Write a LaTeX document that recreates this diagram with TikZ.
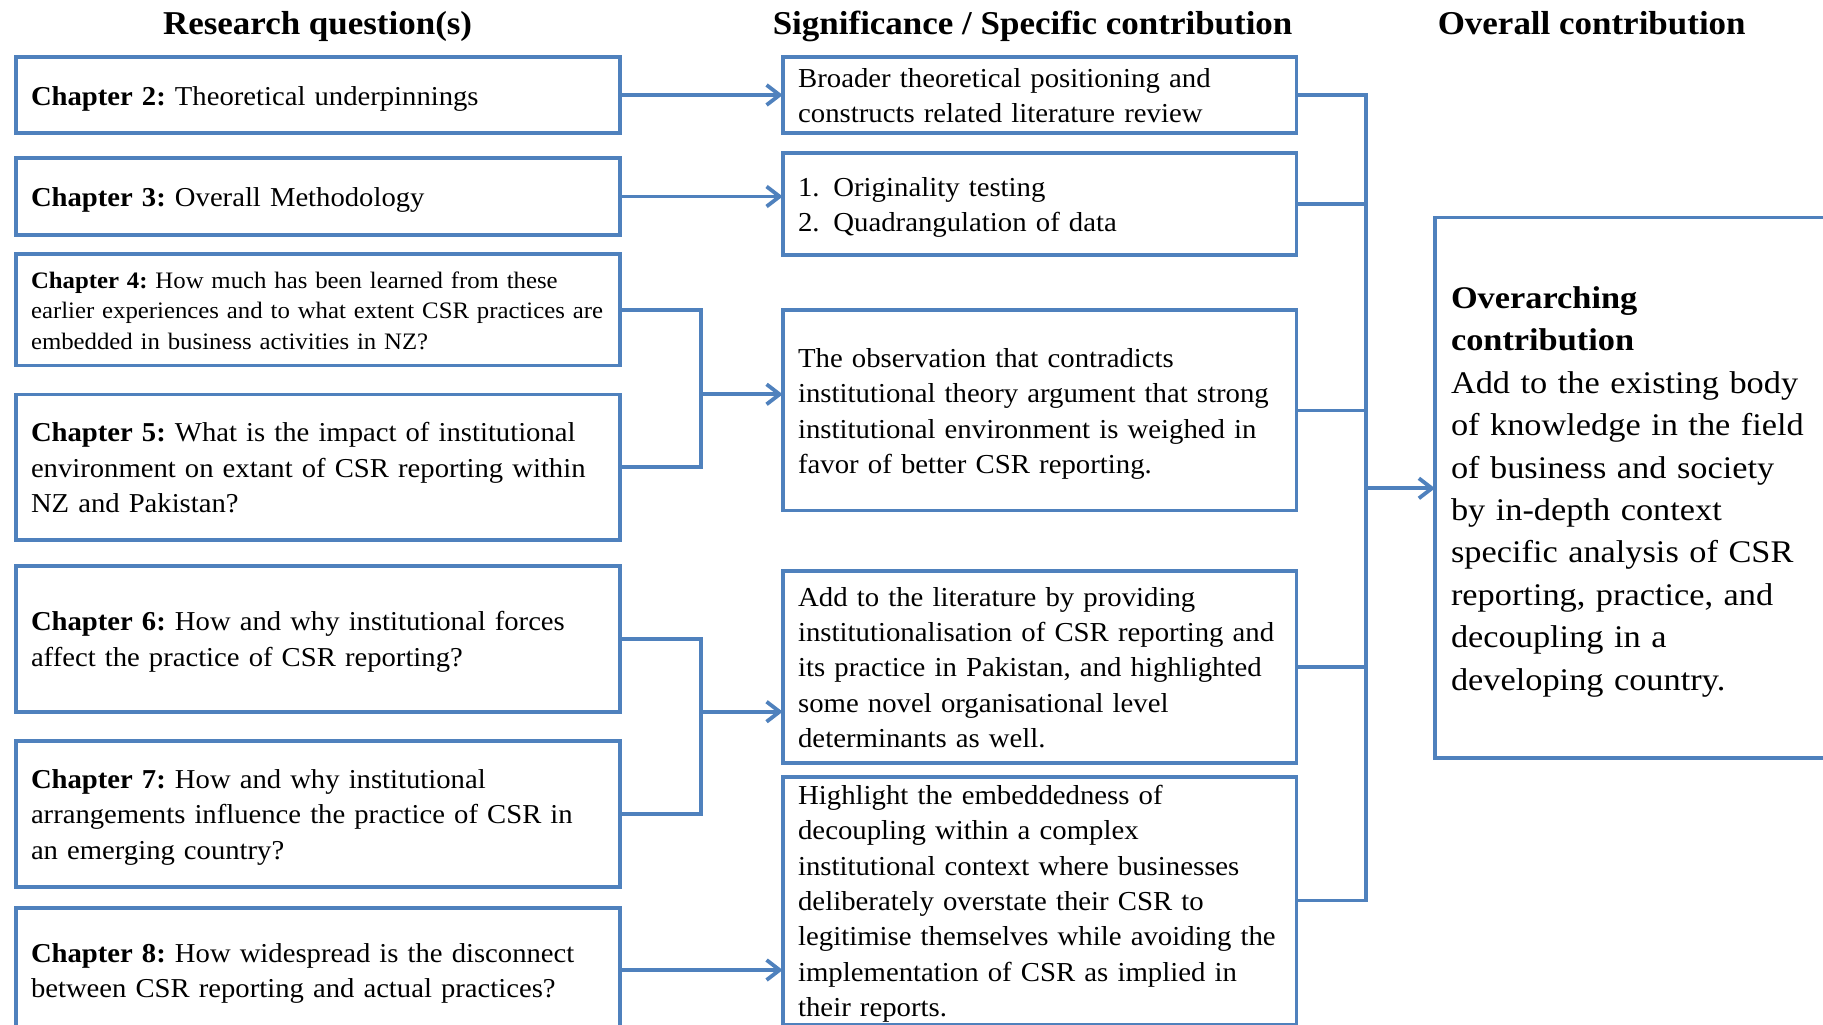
\documentclass[tikz,border=0pt]{standalone}
\usepackage{fontspec}
\setmainfont[FakeStretch=1.05]{Liberation Serif}
\newfontfamily\widefont[FakeStretch=1.09]{Liberation Serif}
\usetikzlibrary{arrows.meta}
\definecolor{linkblue}{HTML}{4F81BD}
\frenchspacing
% stacked lines that never rewrap, set a little below the optical centre
\newcommand\boxlines[1]{%
  \setbox0=\hbox{\begin{tabular}{@{}l@{}}#1\end{tabular}}%
  \dimen0=\ht0 \dimen2=\dp0
  \setbox0=\hbox{\lower3pt\box0}%
  \ht0=\dimen0 \dp0=\dimen2
  \box0}

\begin{document}
\begin{tikzpicture}[x=1pt,y=1pt,
  card/.style={draw=linkblue, line width=3.8pt, inner xsep=15pt, inner ysep=0pt,
    outer sep=0pt, align=left, fill=white},
  leftcard/.style={card, minimum width=604.7pt, text width=574pt,
    font=\fontsize{27.3}{35.5}\selectfont},
  smallcard/.style={leftcard, font=\fontsize{23.6}{30.2}\selectfont},
  midcard/.style={card, minimum width=513.8pt, text width=483pt,
    font=\fontsize{27.4}{35.4}\selectfont},
  heading/.style={inner sep=0pt, anchor=base, font=\fontsize{33.3}{40}\selectfont\bfseries},
  conn/.style={draw=linkblue, line width=3.8pt},
  arr/.style={conn, -{Straight Barb[length=13pt,width=20pt]}}
]
\useasboundingbox (0,0) rectangle (1823,-1025);
\fill[white] (0,0) rectangle (1823,-1025);
\clip (0,0) rectangle (1823,-1025);

% column headings
\node[heading] (h1) at (317.6,-35) {Research question(s)};
\node[heading] (h2) at (1032.6,-35) {Significance / Specific contribution};
\node[heading] (h3) at (1591.7,-35) {Overall contribution};

% research questions
\node[leftcard, minimum height=76.6pt] (c2) at (318,-95)
  {\boxlines{\textbf{Chapter 2:} Theoretical underpinnings}};
\node[leftcard, minimum height=77pt] (c3) at (318,-196.5)
  {\boxlines{\textbf{Chapter 3:} Overall Methodology}};
\node[smallcard, minimum height=111.5pt] (c4) at (318,-309.8)
  {\boxlines{\textbf{Chapter 4:} How much has been learned from these\\
   earlier experiences and to what extent CSR practices are\\
   embedded in business activities in NZ?}};
\node[leftcard, minimum height=145.5pt] (c5) at (318,-467.3)
  {\boxlines{\textbf{Chapter 5:} What is the impact of institutional\\
   environment on extant of CSR reporting within\\
   NZ and Pakistan?}};
\node[leftcard, minimum height=146pt] (c6) at (318,-638.6)
  {\boxlines{\textbf{Chapter 6:} How and why institutional forces\\
   affect the practice of CSR reporting?}};
\node[leftcard, minimum height=146pt] (c7) at (318,-813.8)
  {\boxlines{\textbf{Chapter 7:} How and why institutional\\
   arrangements influence the practice of CSR in\\
   an emerging country?}};
\node[leftcard, minimum height=124pt] (c8) at (318,-970)
  {\boxlines{\textbf{Chapter 8:} How widespread is the disconnect\\
   between CSR reporting and actual practices?}};

% specific contributions
\node[midcard, minimum height=75.7pt] (m1) at (1039.6,-94.9)
  {\boxlines{Broader theoretical positioning and\\
   constructs related literature review}};
\node[midcard, minimum height=102.3pt] (m2) at (1039.6,-203.9)
  {\boxlines{1.\enspace Originality testing\\
   2.\enspace Quadrangulation of data}};
\node[midcard, minimum height=200.3pt] (m3) at (1039.6,-410.4)
  {\boxlines{The observation that contradicts\\
   institutional theory argument that strong\\
   institutional environment is weighed in\\
   favor of better CSR reporting.}};
\node[midcard, minimum height=192.2pt] (m4) at (1039.6,-666.9)
  {\boxlines{Add to the literature by providing\\
   institutionalisation of CSR reporting and\\
   its practice in Pakistan, and highlighted\\
   some novel organisational level\\
   determinants as well.}};
\node[midcard, minimum height=245pt] (m5) at (1039.6,-900.5)
  {\boxlines{Highlight the embeddedness of\\
   decoupling within a complex\\
   institutional context where businesses\\
   deliberately overstate their CSR to\\
   legitimise themselves while avoiding the\\
   implementation of CSR as implied in\\
   their reports.}};

% overall contribution
\node[card, inner xsep=15.7pt, minimum width=445pt, text width=413pt,
  minimum height=540.5pt, font=\widefont\fontsize{31.5}{42.4}\selectfont]
  (ov) at (1657.5,-487.8)
  {\boxlines{\textbf{Overarching}\\ \textbf{contribution}\\
   Add to the existing body\\
   of knowledge in the field\\
   of business and society\\
   by in-depth context\\
   specific analysis of CSR\\
   reporting, practice, and\\
   decoupling in a\\
   developing country.}};

% questions to contributions
\draw[arr] (c2.east) -- (c2.east -| m1.west);
\draw[arr] (c3.east) -- (c3.east -| m2.west);
\coordinate (j45) at (701,-394.3);
\draw[conn] (c4.east) -| (j45) |- (c5.east);
\draw[arr] (j45) -- (j45 -| m3.west);
\coordinate (j67) at (701,-711.7);
\draw[conn] (c6.east) -| (j67) |- (c7.east);
\draw[arr] (j67) -- (j67 -| m4.west);
\draw[arr] (c8.east) -- (c8.east -| m5.west);

% contributions to the overall contribution
\coordinate (bus) at (1365.7,-488.3);
\draw[conn] (m1.east) -| (bus) |- (m5.east);
\draw[conn] (m2.east) -- (m2.east -| bus);
\draw[conn] (m3.east) -- (m3.east -| bus);
\draw[conn] (m4.east) -- (m4.east -| bus);
\draw[arr] (bus) -- (bus -| ov.west);
\end{tikzpicture}
\end{document}
